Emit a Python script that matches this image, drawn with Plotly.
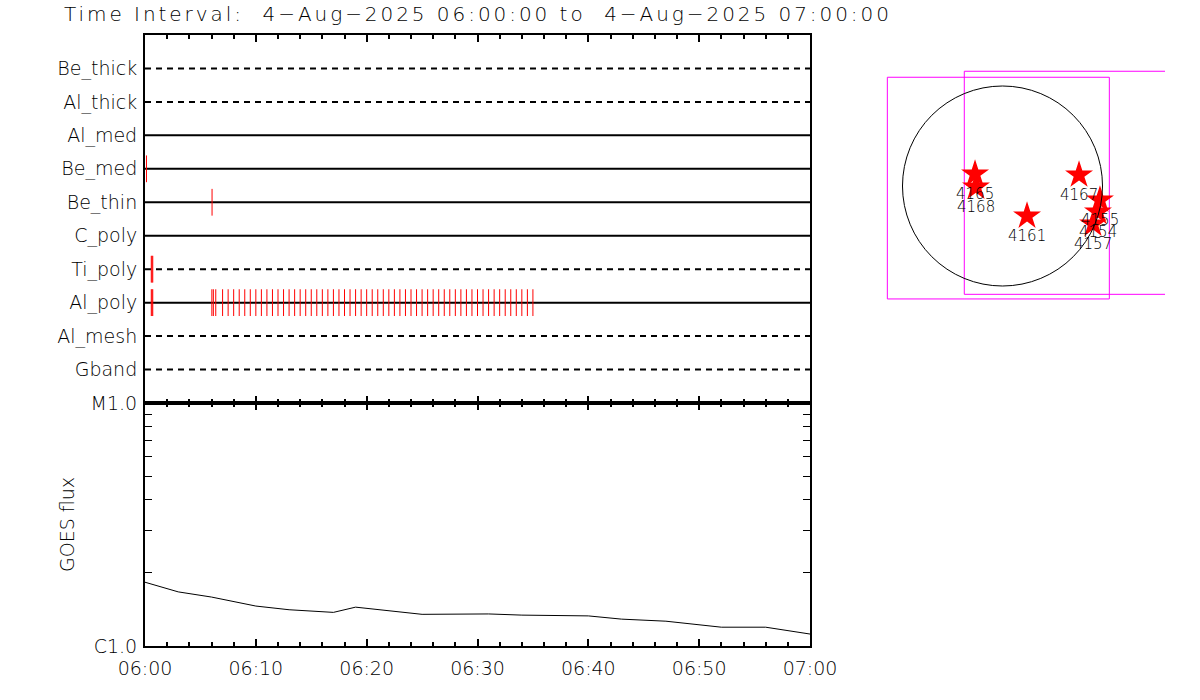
import plotly.graph_objects as go

DAY = "2025-08-04 "
T0, T1 = DAY + "06:00:00", DAY + "07:00:00"

# ---- filter rows (top to bottom) ----
filters = ["Be_thick", "Al_thick", "Al_med", "Be_med", "Be_thin",
           "C_poly", "Ti_poly", "Al_poly", "Al_mesh", "Gband"]
dashed = [True, True, False, False, False, False, True, False, True, True]

# ---- exposure times per filter ----
be_med_times = ["06:00:08"]
be_thin_times = ["06:06:03"]
ti_poly_times = ["06:00:34", "06:00:38", "06:00:42"]
al_poly_times = ["06:00:34", "06:00:38", "06:00:42",
                 "06:06:02", "06:06:10", "06:06:23",
                 "06:07:00", "06:07:30", "06:08:00", "06:08:30", "06:09:00", "06:09:30",
                 "06:10:00", "06:10:30", "06:11:00", "06:11:30", "06:12:00", "06:12:30",
                 "06:13:00", "06:13:30", "06:14:00", "06:14:30", "06:15:00", "06:15:30",
                 "06:16:00", "06:16:30", "06:17:00", "06:17:30", "06:18:00", "06:18:30",
                 "06:19:00", "06:19:30", "06:20:00", "06:20:30", "06:21:00", "06:21:30",
                 "06:22:00", "06:22:30", "06:23:00", "06:23:30", "06:24:00", "06:24:30",
                 "06:25:00", "06:25:30", "06:26:00", "06:26:30", "06:27:00", "06:27:30",
                 "06:28:00", "06:28:30", "06:29:00", "06:29:30", "06:30:00", "06:30:30",
                 "06:31:00", "06:31:30", "06:32:00", "06:32:30", "06:33:00", "06:33:30",
                 "06:34:00", "06:34:30", "06:35:00"]

# ---- GOES flux ----
goes_times = ["06:00", "06:03", "06:06", "06:08", "06:10", "06:13", "06:17", "06:19",
              "06:20", "06:25", "06:31", "06:34", "06:40", "06:43", "06:47", "06:52",
              "06:56", "07:00"]
goes_flux = [1.83e-6, 1.67e-6, 1.59e-6, 1.52e-6, 1.46e-6, 1.41e-6, 1.375e-6, 1.445e-6,
             1.43e-6, 1.35e-6, 1.355e-6, 1.34e-6, 1.33e-6, 1.29e-6, 1.265e-6, 1.195e-6,
             1.195e-6, 1.12e-6]
goes_tickvals = [1e-6, 1e-5]
goes_ticktext = ["C1.0", "M1.0"]
goes_minor = [2e-6, 3e-6, 4e-6, 5e-6, 6e-6, 7e-6, 8e-6, 9e-6]

# ---- solar map (arcsec) ----
r_sun = 950
ar_nums = ["4165", "4168", "4161", "4167", "4155", "4154", "4157"]
ar_x = [-261, -252, 233, 727, 926, 907, 860]
ar_y = [114, -10, -285, 105, -133, -247, -361]
fov1_x = [-1094, 1015]
fov1_y = [-1073, 1033]
fov2_x = [-363, 1756]
fov2_y = [-1029, 1090]

W, H = 1200, 700
FONT = "DejaVu Sans"


def px(v):
    return v / W


def py(v):
    return 1 - v / H


fig = go.Figure()

n = len(filters)
row_y = [n - 1 - i for i in range(n)]

# filter lines
for name, yv, d in zip(filters, row_y, dashed):
    fig.add_trace(go.Scatter(x=[T0, T1], y=[yv, yv], mode="lines",
                             line=dict(color="black", width=2, dash="6px,5px" if d else "solid"),
                             xaxis="x", yaxis="y", showlegend=False, hoverinfo="skip"))

# exposure ticks
for name, times in [("Be_med", be_med_times), ("Be_thin", be_thin_times),
                    ("Ti_poly", ti_poly_times), ("Al_poly", al_poly_times)]:
    yv = row_y[filters.index(name)]
    xs, ys = [], []
    for t in times:
        xs += [DAY + t, DAY + t, None]
        ys += [yv - 0.4, yv + 0.4, None]
    fig.add_trace(go.Scatter(x=xs, y=ys, mode="lines", line=dict(color="#ff0000", width=1),
                             xaxis="x", yaxis="y", showlegend=False, hoverinfo="skip"))

# GOES
fig.add_trace(go.Scatter(x=[DAY + t for t in goes_times], y=goes_flux, mode="lines",
                         line=dict(color="black", width=1), xaxis="x2", yaxis="y2",
                         showlegend=False))

# map
for fx, fy in [(fov1_x, fov1_y), (fov2_x, fov2_y)]:
    fig.add_trace(go.Scatter(x=[fx[0], fx[1], fx[1], fx[0], fx[0]],
                             y=[fy[0], fy[0], fy[1], fy[1], fy[0]], mode="lines",
                             line=dict(color="#ff00ff", width=1), xaxis="x3", yaxis="y3",
                             showlegend=False, hoverinfo="skip"))
fig.add_shape(type="circle", xref="x3", yref="y3", x0=-r_sun, y0=-r_sun, x1=r_sun, y1=r_sun,
              line=dict(color="black", width=1))
fig.add_trace(go.Scatter(x=ar_x, y=ar_y, mode="markers",
                         marker=dict(symbol="star", size=21, color="red", line=dict(width=0)),
                         xaxis="x3", yaxis="y3", showlegend=False))
for lab, x, y in zip(ar_nums, ar_x, ar_y):
    fig.add_annotation(x=x, y=y, xref="x3", yref="y3", text=lab, showarrow=False,
                       yshift=-20, font=dict(family=FONT, size=15, color="black", weight=200))

tick_font = dict(family=FONT, size=19, color="black", weight=200)
axis_common = dict(showline=True, linecolor="black", linewidth=2, showgrid=False,
                   zeroline=False, automargin=False)

top_dom = [py(403), py(35)]
bot_dom = [py(646), py(403)]
xdom = [px(145), px(810)]

fig.update_layout(
    template="none",
    width=W, height=H, autosize=False,
    margin=dict(l=0, r=0, t=0, b=0, pad=0),
    paper_bgcolor="white", plot_bgcolor="white",
    xaxis=dict(domain=xdom, anchor="y", side="top", type="date", range=[T0, T1],
               showticklabels=False, ticks="inside", ticklen=7, tickwidth=2,
               tickcolor="black", tick0=T0, dtick=600000, mirror="ticks",
               minor=dict(dtick=120000, ticks="inside", ticklen=4, tickwidth=2,
                          tickcolor="black", showgrid=False),
               **axis_common),
    yaxis=dict(domain=top_dom, anchor="x", range=[-1, n], tickmode="array",
               tickvals=row_y, ticktext=filters, ticks="", mirror=True,
               tickfont=tick_font, ticklabelstandoff=2, **axis_common),
    xaxis2=dict(domain=xdom, anchor="y2", type="date", range=[T0, T1],
                ticks="inside", ticklen=7, tickwidth=2, tickcolor="black",
                tick0=T0, dtick=600000, tickformat="%H:%M", mirror="ticks",
                tickfont=tick_font, ticklabelstandoff=4,
                minor=dict(dtick=120000, ticks="inside", ticklen=4, tickwidth=2,
                           tickcolor="black", showgrid=False),
                **axis_common),
    yaxis2=dict(domain=bot_dom, anchor="x2", type="log", range=[-6, -5],
                tickmode="array", tickvals=goes_tickvals, ticktext=goes_ticktext,
                ticks="inside", ticklen=7, tickwidth=1, tickcolor="black",
                mirror="ticks", tickfont=tick_font, ticklabelstandoff=2,
                minor=dict(tickmode="array", tickvals=goes_minor, ticks="inside",
                           ticklen=7, tickwidth=1, tickcolor="black", showgrid=False),
                **axis_common),
    xaxis3=dict(domain=[px(840), px(1165)], anchor="y3", range=[-1543.75, 1543.75],
                visible=False),
    yaxis3=dict(domain=[py(348.5), py(23.5)], anchor="x3", range=[-1543.75, 1543.75],
                visible=False),
)

title_text = "Time Interval:\u00a0\u00a04\u2212Aug\u22122025 06:00:00 to\u00a0\u00a04\u2212Aug\u22122025 07:00:00"
fig.add_annotation(xref="paper", yref="paper", x=px(62), y=py(14), xanchor="left",
                   yanchor="middle", showarrow=False,
                   text='<span style="letter-spacing:2.95px">' + title_text + "</span>",
                   font=dict(family=FONT, size=20, color="black", weight=200))
fig.add_annotation(xref="paper", yref="paper", x=px(67), y=py(525), xanchor="center",
                   yanchor="middle", showarrow=False, textangle=-90, text="GOES flux",
                   font=tick_font)

fig.write_html("out.html", config={"displayModeBar": False},
               post_script="document.body.style.margin='0';")
